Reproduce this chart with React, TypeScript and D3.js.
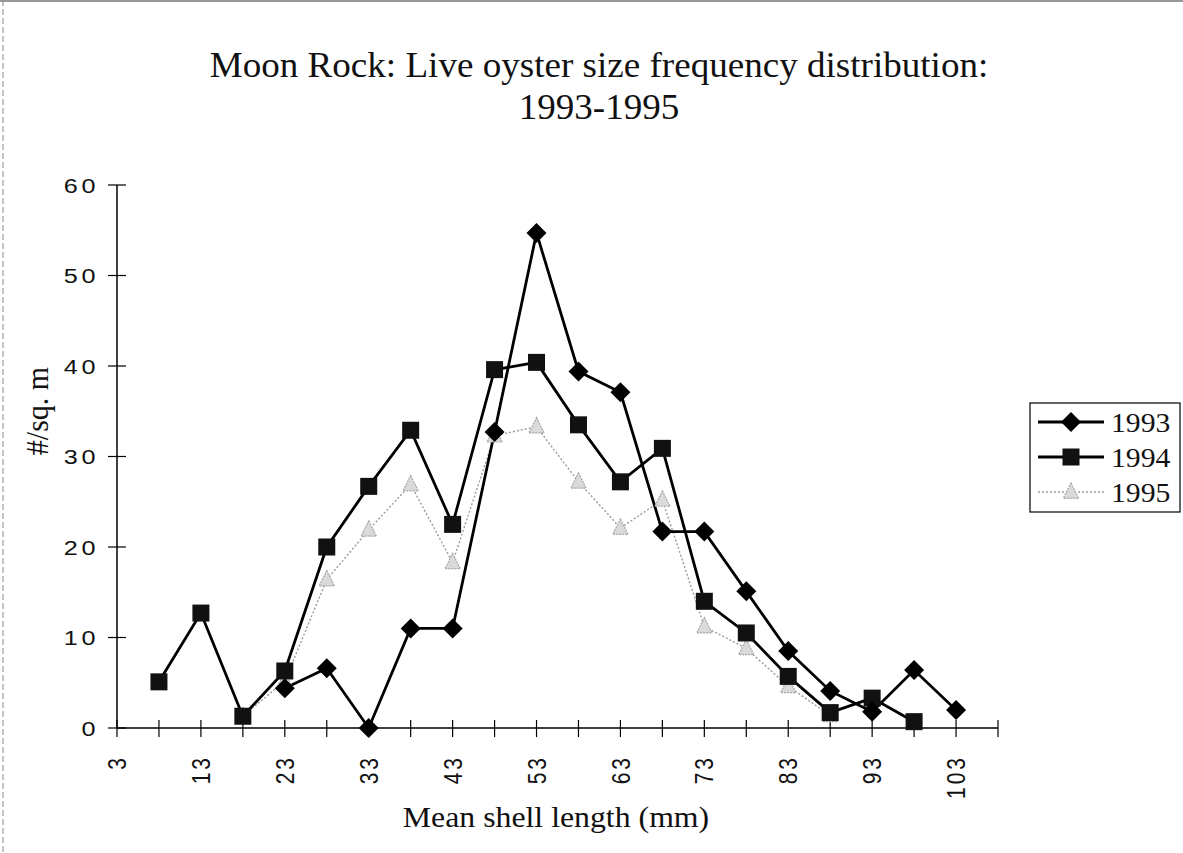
import React from "react";
import * as d3 from "d3";

const sizes = [8, 13, 18, 23, 28, 33, 38, 43, 48, 53, 58, 63, 68, 73, 78, 83, 88, 93, 98, 103];
const y1993: (number | null)[] = [null, null, null, 4.4, 6.6, 0, 11, 11, 32.7, 54.7, 39.4, 37.1, 21.7, 21.7, 15.1, 8.5, 4.1, 1.8, 6.4, 2.0];
const y1994: (number | null)[] = [5.1, 12.7, 1.3, 6.3, 20.0, 26.7, 32.9, 22.5, 39.6, 40.4, 33.5, 27.2, 30.9, 14.0, 10.5, 5.7, 1.7, 3.3, 0.7, null];
const y1995: (number | null)[] = [null, null, 1.3, 5.2, 16.4, 21.9, 26.9, 18.3, 32.3, 33.3, 27.2, 22.1, 25.2, 11.2, 8.8, 4.6, 1.4, null, null, null];
const seriesNames = ["1993", "1994", "1995"];
const xTickValues = [3, 8, 13, 18, 23, 28, 33, 38, 43, 48, 53, 58, 63, 68, 73, 78, 83, 88, 93, 98, 103, 108];
const xLabelValues = [3, 13, 23, 33, 43, 53, 63, 73, 83, 93, 103];
const yTickValues = [0, 10, 20, 30, 40, 50, 60];

const W = 1183;
const H = 853;
const x = d3.scaleLinear().domain([3, 108]).range([117, 998]);
const y = d3.scaleLinear().domain([0, 60]).range([728, 185]);

type Pt = { s: number; v: number };

function pts(vals: (number | null)[]): Pt[] {
  const out: Pt[] = [];
  vals.forEach((v, i) => {
    if (v !== null) out.push({ s: sizes[i], v });
  });
  return out;
}

const line = d3
  .line<Pt>()
  .x((d) => x(d.s))
  .y((d) => y(d.v));

function Marker({ kind, cx, cy }: { kind: number; cx: number; cy: number }) {
  if (kind === 0) {
    const r = 10;
    return <path d={`M${cx},${cy - r}L${cx + r},${cy}L${cx},${cy + r}L${cx - r},${cy}Z`} fill="#000" />;
  }
  if (kind === 1) {
    const s = 17;
    return <rect x={cx - s / 2} y={cy - s / 2} width={s} height={s} fill="#111" />;
  }
  const r = 9;
  return (
    <path
      d={`M${cx},${cy - r}L${cx + r * 0.85},${cy + r * 0.7}L${cx - r * 0.85},${cy + r * 0.7}Z`}
      fill="#dadada"
      stroke="#a8a8a8"
      strokeWidth={1.2}
      strokeDasharray="2,1"
    />
  );
}

export default function App() {
  const series = [pts(y1993), pts(y1994), pts(y1995)];
  const sans = "'Liberation Sans', Arial, sans-serif";
  const serif = "'Liberation Serif', 'Times New Roman', serif";
  return (
    <svg width={W} height={H} style={{ position: "absolute", left: 0, top: 0, background: "#fff" }}>
      <rect x={0} y={0} width={W} height={H} fill="#fff" />
      {/* page frame */}
      <line x1={0} y1={1} x2={W} y2={1} stroke="#333" strokeWidth={1.2} />
      <line x1={3} y1={0} x2={3} y2={H} stroke="#888" strokeWidth={1} strokeDasharray="6,3" />

      {/* title */}
      <g transform="translate(599,77) scale(1.06,1)">
        <text x={0} y={0} textAnchor="middle" fontFamily={serif} fontSize={35} fill="#111">
          Moon Rock: Live oyster size frequency distribution:
        </text>
      </g>
      <g transform="translate(599,119) scale(1.06,1)">
        <text x={0} y={0} textAnchor="middle" fontFamily={serif} fontSize={35} fill="#111">
          1993-1995
        </text>
      </g>

      {/* y axis */}
      <line x1={117} y1={y(60)} x2={117} y2={y(0)} stroke="#000" strokeWidth={1.5} />
      {yTickValues.map((t) => (
        <g key={"yt" + t}>
          <line x1={108} y1={y(t)} x2={126} y2={y(t)} stroke="#000" strokeWidth={1.2} />
          <g transform={`translate(99,${y(t)}) scale(1.2,1)`}>
            <text x={0} y={0} dy="0.36em" textAnchor="end" fontFamily={sans} fontSize={21} letterSpacing={3} fill="#111">
              {t}
            </text>
          </g>
        </g>
      ))}
      <g transform={`translate(48,411) scale(1.06,1) rotate(-90)`}>
        <text x={0} y={0} textAnchor="middle" fontFamily={serif} fontSize={30} fill="#111">
          #/sq. m
        </text>
      </g>

      {/* x axis */}
      <line x1={x(3)} y1={y(0)} x2={x(108)} y2={y(0)} stroke="#000" strokeWidth={1.5} />
      {xTickValues.map((t) => (
        <line key={"xt" + t} x1={x(t)} y1={y(0) - 8} x2={x(t)} y2={y(0) + 9} stroke="#000" strokeWidth={1.2} />
      ))}
      {xLabelValues.map((t) => (
        <g key={"xl" + t} transform={`translate(${x(t)},${y(0) + 27}) scale(1.2,1) rotate(-90)`}>
          <text x={0} y={0} dy="0.36em" textAnchor="end" fontFamily={sans} fontSize={21} letterSpacing={3} fill="#111">
            {t}
          </text>
        </g>
      ))}
      <g transform="translate(556,827) scale(1.06,1)">
        <text x={0} y={0} textAnchor="middle" fontFamily={serif} fontSize={30} fill="#111">
          Mean shell length (mm)
        </text>
      </g>

      {/* series lines */}
      <path d={line(series[2]) || ""} fill="none" stroke="#9a9a9a" strokeWidth={1.4} strokeDasharray="2,2" />
      <path d={line(series[1]) || ""} fill="none" stroke="#000" strokeWidth={2.8} />
      <path d={line(series[0]) || ""} fill="none" stroke="#000" strokeWidth={2.8} />
      {series[2].map((d, i) => (
        <Marker key={"m2" + i} kind={2} cx={x(d.s)} cy={y(d.v)} />
      ))}
      {series[1].map((d, i) => (
        <Marker key={"m1" + i} kind={1} cx={x(d.s)} cy={y(d.v)} />
      ))}
      {series[0].map((d, i) => (
        <Marker key={"m0" + i} kind={0} cx={x(d.s)} cy={y(d.v)} />
      ))}

      {/* legend */}
      <rect x={1030} y={403} width={150} height={109} fill="#fff" stroke="#000" strokeWidth={1.2} />
      {seriesNames.map((n, i) => {
        const ly = 422 + i * 35;
        return (
          <g key={"lg" + n}>
            <line
              x1={1038}
              y1={ly}
              x2={1104}
              y2={ly}
              stroke={i === 2 ? "#9a9a9a" : "#000"}
              strokeWidth={i === 2 ? 1.4 : 2.8}
              strokeDasharray={i === 2 ? "2,2" : undefined}
            />
            <Marker kind={i} cx={1071} cy={ly} />
            <g transform={`translate(1111,${ly}) scale(1.06,1)`}>
              <text x={0} y={0} dy="0.35em" fontFamily={serif} fontSize={28} fill="#111">
                {n}
              </text>
            </g>
          </g>
        );
      })}
    </svg>
  );
}
